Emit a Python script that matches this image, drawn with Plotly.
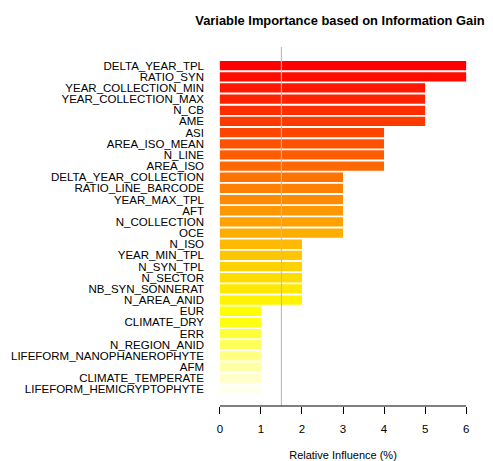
import colorsys
import plotly.graph_objects as go

variables = [
    "DELTA_YEAR_TPL", "RATIO_SYN", "YEAR_COLLECTION_MIN", "YEAR_COLLECTION_MAX",
    "N_CB", "AME", "ASI", "AREA_ISO_MEAN", "N_LINE", "AREA_ISO",
    "DELTA_YEAR_COLLECTION", "RATIO_LINE_BARCODE", "YEAR_MAX_TPL", "AFT",
    "N_COLLECTION", "OCE", "N_ISO", "YEAR_MIN_TPL", "N_SYN_TPL", "N_SECTOR",
    "NB_SYN_SONNERAT", "N_AREA_ANID", "EUR", "CLIMATE_DRY", "ERR",
    "N_REGION_ANID", "LIFEFORM_NANOPHANEROPHYTE", "AFM", "CLIMATE_TEMPERATE",
    "LIFEFORM_HEMICRYPTOPHYTE",
]
influence = [6, 6, 5, 5, 5, 5, 4, 4, 4, 4, 3, 3, 3, 3, 3, 3,
             2, 2, 2, 2, 2, 2, 1, 1, 1, 1, 1, 1, 1, 1]
threshold = 1.5
x_ticks = [0, 1, 2, 3, 4, 5, 6]


def heat_colors(n):
    # R heat.colors(n)
    j = n // 4
    i = n - j
    cols = []
    for k in range(i):
        h = (1 / 6) * k / (i - 1)
        cols.append(colorsys.hsv_to_rgb(h, 1, 1))
    for k in range(j):
        s0, s1 = 1 - 1 / (2 * j), 1 / (2 * j)
        s = s0 + (s1 - s0) * k / (j - 1)
        cols.append(colorsys.hsv_to_rgb(1 / 6, s, 1))
    return ["rgb(%d,%d,%d)" % (round(r * 255), round(g * 255), round(b * 255)) for r, g, b in cols]


colors = heat_colors(len(variables))
positions = list(range(len(variables)))

W, H = 485, 453  # page has an 8px body margin

fig = go.Figure()
fig.add_trace(go.Bar(
    x=influence, y=positions, orientation="h",
    marker=dict(color=colors, line=dict(width=0)),
    showlegend=False,
))

fig.add_shape(type="line", xref="x", yref="paper", x0=threshold, x1=threshold,
              y0=0, y1=1, line=dict(color="#BEBEBE", width=1.2), layer="above")
fig.add_shape(type="line", xref="x", yref="paper", x0=x_ticks[0], x1=x_ticks[-1],
              y0=0, y1=0, line=dict(color="black", width=1), layer="above")

fig.update_layout(
    width=W, height=H,
    margin=dict(l=202, r=17, t=39, b=55, autoexpand=False),
    paper_bgcolor="white", plot_bgcolor="white",
    bargap=0.2 / 1.2,
    font=dict(family="Liberation Sans, Arial, sans-serif", size=11, color="black"),
    title=dict(text="<b>Variable Importance based on Information Gain</b>",
               x=332 / W, xanchor="center", y=1 - 12 / H, yanchor="middle",
               font=dict(size=12.9, color="black")),
)
fig.update_xaxes(
    range=[-0.24, 6.24], tickvals=x_ticks, ticks="outside", ticklen=7,
    tickcolor="black", tickwidth=1, showgrid=False, zeroline=False, showline=False,
    tickfont=dict(size=11.5), ticklabelstandoff=5, automargin=False,
    title=dict(text="Relative Influence (%)", font=dict(size=11), standoff=19),
)
fig.update_yaxes(
    range=[30.49, -1.67], showgrid=False, zeroline=False, showline=False,
    tickmode="array", tickvals=positions, ticktext=variables,
    ticks="", tickfont=dict(size=11.5), ticklabelstandoff=5, automargin=False,
)

fig.write_html("out.html")
